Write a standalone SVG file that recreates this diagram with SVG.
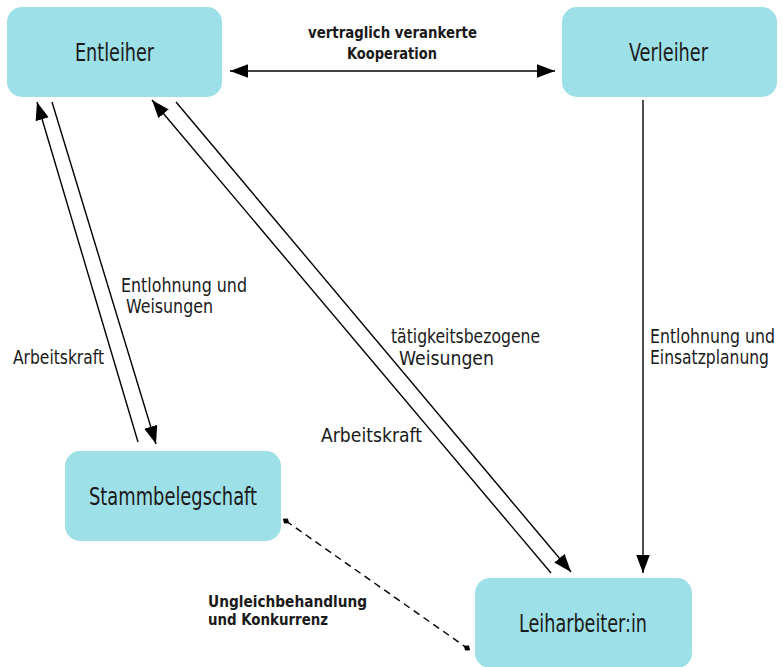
<svg xmlns="http://www.w3.org/2000/svg" width="783" height="667" viewBox="0 0 783 667">
<style>
.box{fill:#9ee0e7;}
.nt{font-family:"Liberation Sans Narrow","DejaVu Sans Condensed","Liberation Sans",sans-serif;font-stretch:condensed;font-size:25px;fill:#1a1a1a;text-anchor:middle;}
.lb{font-family:"Liberation Sans Narrow","DejaVu Sans Condensed","Liberation Sans",sans-serif;font-stretch:condensed;font-size:19px;fill:#1a1a1a;}
.bl{font-family:"Liberation Sans Narrow","DejaVu Sans Condensed","Liberation Sans",sans-serif;font-stretch:condensed;font-size:16.5px;font-weight:bold;fill:#1a1a1a;}
.ln{stroke:#000;stroke-width:1.4;fill:none;}
</style>
<defs>
<marker id="ah" markerUnits="userSpaceOnUse" markerWidth="18" markerHeight="14" viewBox="0 0 16 12" refX="16" refY="6" orient="auto-start-reverse">
<path d="M0,0 L16,6 L0,12 Z" fill="#000"/>
</marker>
<marker id="dm" markerUnits="userSpaceOnUse" markerWidth="8" markerHeight="8" viewBox="0 0 8 8" refX="4" refY="4" orient="auto">
<path d="M0,4 L4,0.8 L8,4 L4,7.2 Z" fill="#000"/>
</marker>
</defs>
<g id="connectors">
<line class="ln" x1="230" y1="71" x2="555" y2="71" stroke-width="2" marker-start="url(#ah)" marker-end="url(#ah)"/>
<line class="ln" x1="138" y1="442" x2="37" y2="102" marker-end="url(#ah)"/>
<line class="ln" x1="52" y1="102" x2="156" y2="444" marker-end="url(#ah)"/>
<line class="ln" x1="551" y1="573" x2="152" y2="100" marker-end="url(#ah)"/>
<line class="ln" x1="176" y1="102" x2="571" y2="572" marker-end="url(#ah)"/>
<line class="ln" x1="643" y1="100" x2="643" y2="573" marker-end="url(#ah)"/>
<line class="ln" x1="286" y1="521" x2="467" y2="648" stroke-dasharray="7,5" marker-start="url(#dm)" marker-end="url(#dm)"/>
<text class="bl" x="308" y="38" textLength="169" lengthAdjust="spacingAndGlyphs">vertraglich verankerte</text>
<text class="bl" x="347" y="59" textLength="90" lengthAdjust="spacingAndGlyphs">Kooperation</text>
<text class="lb" x="121" y="292" textLength="126" lengthAdjust="spacingAndGlyphs">Entlohnung und</text>
<text class="lb" x="126" y="313" textLength="87" lengthAdjust="spacingAndGlyphs">Weisungen</text>
<text class="lb" x="13" y="364" textLength="91" lengthAdjust="spacingAndGlyphs">Arbeitskraft</text>
<text class="lb" x="391" y="343" textLength="149" lengthAdjust="spacingAndGlyphs">tätigkeitsbezogene</text>
<text class="lb" x="399" y="365" textLength="95" lengthAdjust="spacingAndGlyphs">Weisungen</text>
<text class="lb" x="321" y="442" textLength="101" lengthAdjust="spacingAndGlyphs">Arbeitskraft</text>
<text class="lb" x="650" y="343" textLength="125" lengthAdjust="spacingAndGlyphs">Entlohnung und</text>
<text class="lb" x="650" y="364" textLength="119" lengthAdjust="spacingAndGlyphs">Einsatzplanung</text>
<text class="bl" x="208" y="607" textLength="159" lengthAdjust="spacingAndGlyphs">Ungleichbehandlung</text>
<text class="bl" x="208" y="625" textLength="120" lengthAdjust="spacingAndGlyphs">und Konkurrenz</text>
</g>
<g id="entleiher">
<rect class="box" x="7" y="7" width="215" height="90" rx="15"/>
<text class="nt" x="114.5" y="61" textLength="79" lengthAdjust="spacingAndGlyphs">Entleiher</text>
</g>
<g id="verleiher">
<rect class="box" x="562" y="7" width="215" height="90" rx="15"/>
<text class="nt" x="668.5" y="61" textLength="79" lengthAdjust="spacingAndGlyphs">Verleiher</text>
</g>
<g id="stammbelegschaft">
<rect class="box" x="65" y="451" width="216" height="90" rx="15"/>
<text class="nt" x="173" y="505" textLength="168" lengthAdjust="spacingAndGlyphs">Stammbelegschaft</text>
</g>
<g id="leiharbeiter">
<rect class="box" x="475" y="578" width="217" height="90" rx="15"/>
<text class="nt" x="583" y="632" textLength="128" lengthAdjust="spacingAndGlyphs">Leiharbeiter:in</text>
</g>
</svg>
